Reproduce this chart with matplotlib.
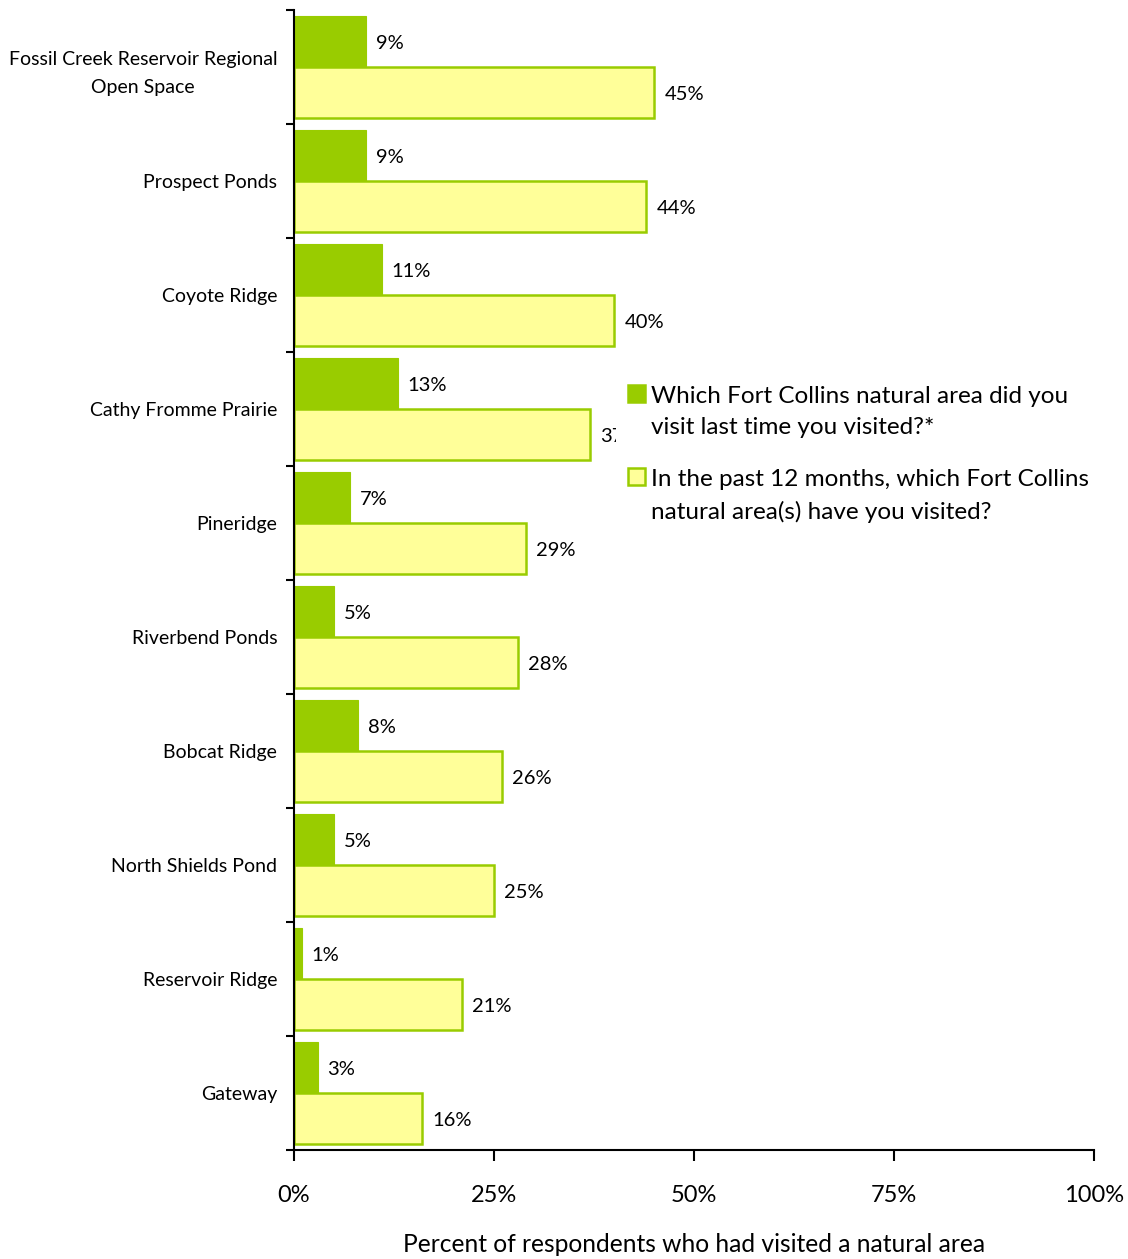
import matplotlib
matplotlib.use("Agg")
import matplotlib.pyplot as plt
from matplotlib.patches import Rectangle
import numpy as np

categories = ["Fossil Creek Reservoir Regional\nOpen Space", "Prospect Ponds", "Coyote Ridge",
              "Cathy Fromme Prairie", "Pineridge", "Riverbend Ponds", "Bobcat Ridge",
              "North Shields Pond", "Reservoir Ridge", "Gateway"]
last_visit = [9, 9, 11, 13, 7, 5, 8, 5, 1, 3]
past_12 = [45, 44, 40, 37, 29, 28, 26, 25, 21, 16]
series_names = ["Which Fort Collins natural area did you\nvisit last time you visited?*",
                "In the past 12 months, which Fort Collins\nnatural area(s) have you visited?"]
xticks = [0, 25, 50, 75, 100]
xlabel = "Percent of respondents who had visited a natural area"

GREEN = "#99CC00"
YELLOW = "#FFFF99"
FONT = "Lato"

plt.rcParams['font.family'] = [FONT, 'DejaVu Sans']

W, H = 1128, 1259
fig = plt.figure(figsize=(W / 100, H / 100), dpi=100)
ax = fig.add_axes([294 / W, 1 - 1150 / H, 800 / W, 1140 / H])

y = np.arange(len(categories))
bh = 0.445
ax.barh(y - bh / 2, last_visit, height=bh, color=GREEN, edgecolor=GREEN, linewidth=0.8, zorder=2)
ax.barh(y + bh / 2, past_12, height=bh, color=YELLOW, edgecolor=GREEN, linewidth=1.8, zorder=2)

for i in range(len(categories)):
    ax.text(last_visit[i] + 1.2, y[i] - bh / 2 + 0.02, f"{last_visit[i]}%", va="center", ha="left",
            fontsize=14.5, zorder=3)
    ax.text(past_12[i] + 1.3, y[i] + bh / 2 + 0.02, f"{past_12[i]}%", va="center", ha="left",
            fontsize=14.5, zorder=3)

ax.set_xlim(0, 100)
ax.set_ylim(len(categories) - 0.5, -0.5)

ax.set_xticks(xticks)
ax.set_xticklabels([f"{t}%" for t in xticks], fontsize=17)
ax.tick_params(axis="x", direction="out", length=8, width=1.5, pad=17)

ax.set_yticks(np.arange(len(categories) + 1) - 0.5)
ax.set_yticklabels([])
ax.set_yticks(y, minor=True)
ax.set_yticklabels(categories, minor=True, fontsize=14)
ax.tick_params(axis="y", which="major", direction="out", length=6, width=1.5)
ax.tick_params(axis="y", which="minor", length=0, pad=12)
for lab in ax.get_yticklabels(minor=True):
    lab.set_multialignment("center")
    lab.set_linespacing(1.75)

for s in ["top", "right"]:
    ax.spines[s].set_visible(False)
for s in ["left", "bottom"]:
    ax.spines[s].set_linewidth(1.5)

ax.set_xlabel(xlabel, fontsize=17.7, labelpad=20)

# legend (manual, to match layout with handle on first line)
def fx(px):
    return px / W
def fy(py):
    return 1 - py / H

fig.patches.append(Rectangle((fx(616), fy(530)), fx(1105) - fx(616), fy(372) - fy(530),
                             transform=fig.transFigure, facecolor="white", edgecolor="none", zorder=5))
entries = [(GREEN, GREEN, 385), (YELLOW, GREEN, 468)]
for (fc, ec, top), name in zip(entries, series_names):
    fig.patches.append(Rectangle((fx(628), fy(top + 17)), fx(645) - fx(628), fy(top) - fy(top + 17),
                                 transform=fig.transFigure, facecolor=fc, edgecolor=ec,
                                 linewidth=1.8, zorder=6))
    fig.text(fx(651), fy(top + 1), name, ha="left", va="top", fontsize=17.5,
             linespacing=1.58, zorder=7)

fig.savefig("out.png", dpi=100)
